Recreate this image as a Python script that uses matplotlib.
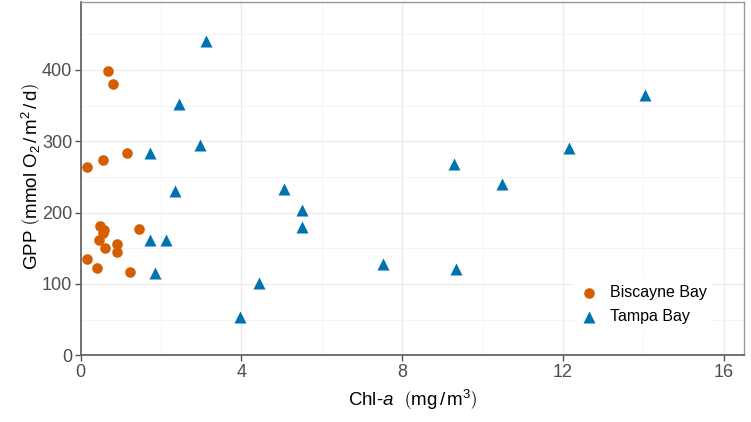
import matplotlib
matplotlib.use("Agg")
import matplotlib.pyplot as plt
from matplotlib.ticker import MultipleLocator

plt.rcParams['font.family'] = ['Liberation Sans', 'DejaVu Sans']
plt.rcParams['mathtext.fontset'] = 'custom'
plt.rcParams['mathtext.rm'] = 'Liberation Sans'
plt.rcParams['mathtext.it'] = 'Liberation Sans:italic'

biscayne_chl = [0.69, 0.80, 0.17, 0.55, 1.15, 0.48, 0.58, 0.56, 0.46, 0.61, 0.90, 0.90, 1.45, 0.17, 0.41, 1.23]
biscayne_gpp = [399, 380, 264, 274, 284, 181, 176, 171, 161, 151, 156, 145, 177, 135, 123, 117]

tampa_chl = [3.13, 2.44, 2.97, 1.72, 2.35, 5.07, 5.51, 5.51, 1.72, 2.13, 1.85, 4.43, 3.96,
             7.53, 9.29, 9.33, 10.49, 12.14, 14.05]
tampa_gpp = [440, 353, 295, 283, 231, 233, 204, 180, 162, 161, 115, 102, 54,
             128, 268, 121, 240, 291, 365]

x_ticks = [0, 4, 8, 12, 16]
y_ticks = [0, 100, 200, 300, 400]

fig = plt.figure(figsize=(7.51, 4.22), dpi=100)
ax = fig.add_axes([80.5/751, (422-355.3)/422, (744-80.5)/751, (355.3-1.5)/422])

ax.scatter(biscayne_chl, biscayne_gpp, s=58, marker='o', color='#D55E00', linewidths=0,
           label='Biscayne Bay', zorder=3)
ax.scatter(tampa_chl, tampa_gpp, s=75, marker='^', color='#0072B2', linewidths=0,
           label='Tampa Bay', zorder=3)

ax.set_xlim(0, 16.5)
ax.set_ylim(0, 496)
ax.set_xticks(x_ticks)
ax.set_yticks(y_ticks)
ax.xaxis.set_minor_locator(MultipleLocator(2))
ax.yaxis.set_minor_locator(MultipleLocator(50))
ax.grid(True, which='major', color='#EBEBEB', lw=0.9, zorder=0)
ax.grid(True, which='minor', color='#F2F2F2', lw=0.6, zorder=0)
ax.tick_params(axis='both', which='major', length=4, width=1, color='#555555',
               labelcolor='#4D4D4D', labelsize=13, pad=2)
ax.tick_params(axis='both', which='minor', length=0)

for side in ['top', 'right']:
    ax.spines[side].set_color('#999999')
    ax.spines[side].set_linewidth(1.0)
for side in ['left', 'bottom']:
    ax.spines[side].set_color('#666666')
    ax.spines[side].set_linewidth(1.3)

ax.set_xlabel(r'Chl-$\it{a}$  $\left(\mathrm{mg}\,/\,\mathrm{m}^3\right)$', fontsize=13.5, labelpad=5)
ax.set_ylabel(r'GPP $\left(\mathrm{mmol\ O_2}\,/\,\mathrm{m}^2\,/\,\mathrm{d}\right)$', fontsize=13.5)
ax.yaxis.set_label_coords(-0.056, 0.504)

leg = ax.legend(loc='center left', bbox_to_anchor=(0.742, 0.1436), frameon=True, fontsize=11.5,
                handletextpad=0.71, borderpad=0.4, labelspacing=0.56, handlelength=1.2,
                borderaxespad=0)
leg.get_frame().set_edgecolor('none')
leg.get_frame().set_facecolor('white')
leg.get_frame().set_alpha(1)

fig.savefig('out.png', dpi=100)
